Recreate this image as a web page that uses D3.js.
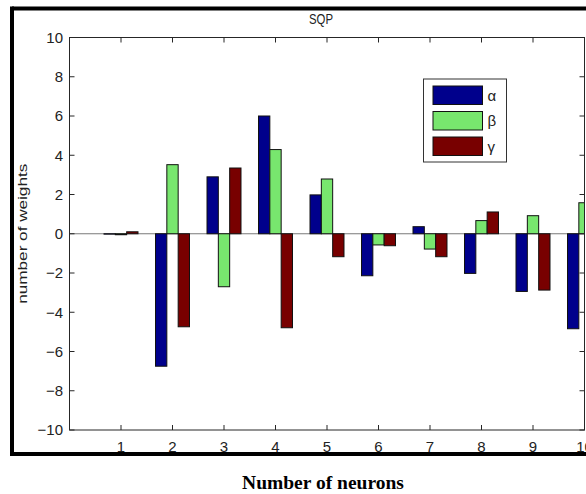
<!DOCTYPE html>
<html>
<head>
<meta charset="utf-8">
<script src="https://cdn.jsdelivr.net/npm/d3@7"></script>
<style>
  body { margin: 0; background: #fff; }
  svg { display: block; }
</style>
</head>
<body>
<div id="chart"></div>
<script>
// neurons 1..10, one value per series
var neurons = [1, 2, 3, 4, 5, 6, 7, 8, 9, 10];
var alpha = [-0.02, -6.75, 2.9, 6.0, 1.98, -2.14, 0.36, -2.02, -2.94, -4.84];
var beta  = [-0.05, 3.52, -2.7, 4.29, 2.79, -0.57, -0.78, 0.67, 0.92, 1.58];
var gamma = [0.1, -4.74, 3.35, -4.79, -1.17, -0.61, -1.17, 1.11, -2.87, -1.2];
var seriesNames = ["α", "β", "γ"];
var seriesColors = ["#00008c", "#78e66e", "#780000"];
var yTicks = [-10, -8, -6, -4, -2, 0, 2, 4, 6, 8, 10];

var width = 586, height = 494;
var plot = {left: 69.5, right: 584.5, top: 37.5, bottom: 430};

var svg = d3.select("#chart").append("svg")
  .attr("width", width)
  .attr("height", height);

svg.append("rect").attr("width", width).attr("height", height).attr("fill", "#fff");

var x = d3.scaleLinear().domain([0, 10]).range([plot.left, plot.right]);
var y = d3.scaleLinear().domain([-10, 10]).range([plot.bottom, plot.top]);

var series = [alpha, beta, gamma];
var barW = 0.22;
var offsets = [-barW, 0, barW];

svg.append("clipPath").attr("id", "clip")
  .append("rect")
  .attr("x", plot.left).attr("y", plot.top)
  .attr("width", plot.right - plot.left).attr("height", plot.bottom - plot.top);

var bars = svg.append("g").attr("clip-path", "url(#clip)");

// baseline
bars.append("line")
  .attr("x1", plot.left).attr("x2", plot.right)
  .attr("y1", y(0)).attr("y2", y(0))
  .attr("stroke", "#7a7a7a").attr("stroke-width", 1);

series.forEach(function(vals, si){
  bars.selectAll(".bar" + si)
    .data(vals)
    .enter().append("rect")
      .attr("class", "bar" + si)
      .attr("x", (d, i) => x(neurons[i] + offsets[si] - barW / 2))
      .attr("width", x(barW) - x(0))
      .attr("y", d => y(Math.max(0, d)))
      .attr("height", d => Math.abs(y(d) - y(0)))
      .attr("fill", seriesColors[si])
      .attr("stroke", "#111")
      .attr("stroke-width", 1);
});

// axes box with inward ticks
var axisColor = "#262626";
var tickLen = 5;
var gAx = svg.append("g");

gAx.append("rect")
  .attr("x", plot.left).attr("y", plot.top)
  .attr("width", plot.right - plot.left).attr("height", plot.bottom - plot.top)
  .attr("fill", "none").attr("stroke", axisColor).attr("stroke-width", 1);

neurons.forEach(function(n){
  gAx.append("line").attr("x1", x(n)).attr("x2", x(n))
    .attr("y1", plot.bottom).attr("y2", plot.bottom - tickLen)
    .attr("stroke", axisColor);
  gAx.append("line").attr("x1", x(n)).attr("x2", x(n))
    .attr("y1", plot.top).attr("y2", plot.top + tickLen)
    .attr("stroke", axisColor);
  gAx.append("text")
    .attr("x", x(n)).attr("y", 452)
    .attr("text-anchor", "middle")
    .attr("font-family", "Liberation Sans, Arial, sans-serif")
    .attr("font-size", 15)
    .attr("fill", "#222")
    .text(n);
});

var fmt = d3.format("");
yTicks.forEach(function(t){
  gAx.append("line").attr("x1", plot.left).attr("x2", plot.left + tickLen)
    .attr("y1", y(t)).attr("y2", y(t)).attr("stroke", axisColor);
  gAx.append("line").attr("x1", plot.right).attr("x2", plot.right - tickLen)
    .attr("y1", y(t)).attr("y2", y(t)).attr("stroke", axisColor);
  gAx.append("text")
    .attr("x", 63).attr("y", y(t))
    .attr("dy", "0.36em")
    .attr("text-anchor", "end")
    .attr("font-family", "Liberation Sans, Arial, sans-serif")
    .attr("font-size", 15)
    .attr("fill", "#222")
    .text(fmt(t));
});

// title and y label
svg.append("text")
  .attr("x", 321).attr("y", 24)
  .attr("text-anchor", "middle")
  .attr("font-family", "Liberation Sans, Arial, sans-serif")
  .attr("font-size", 15)
  .attr("textLength", 24)
  .attr("lengthAdjust", "spacingAndGlyphs")
  .attr("fill", "#222")
  .text("SQP");

svg.append("text")
  .attr("transform", "translate(27," + y(0) + ") rotate(-90)")
  .attr("text-anchor", "middle")
  .attr("font-family", "Liberation Sans, Arial, sans-serif")
  .attr("font-size", 12.5)
  .attr("textLength", 140)
  .attr("lengthAdjust", "spacingAndGlyphs")
  .attr("fill", "#222")
  .text("number of weights");

// legend
var leg = svg.append("g").attr("transform", "translate(423.5,79)");
leg.append("rect")
  .attr("width", 83).attr("height", 83)
  .attr("fill", "#fff").attr("stroke", "#333").attr("stroke-width", 1);
seriesNames.forEach(function(name, i){
  var yy = 7 + i * 25.5;
  leg.append("rect")
    .attr("x", 9.5).attr("y", yy)
    .attr("width", 49.5).attr("height", 18.5)
    .attr("fill", seriesColors[i]).attr("stroke", "#111");
  leg.append("text")
    .attr("x", 64).attr("y", yy + 9.5)
    .attr("dy", "0.36em")
    .attr("font-family", "Liberation Sans, Arial, sans-serif")
    .attr("font-size", 15)
    .attr("fill", "#222")
    .text(name);
});

// outer frame
var frame = svg.append("g").attr("stroke", "#000").attr("stroke-width", 4);
frame.append("line").attr("x1", 12).attr("x2", width).attr("y1", 8.5).attr("y2", 8.5);
frame.append("line").attr("x1", 12).attr("x2", 12).attr("y1", 6.5).attr("y2", 456);
frame.append("line").attr("x1", 10).attr("x2", width).attr("y1", 454).attr("y2", 454);

// x label
svg.append("text")
  .attr("x", 323).attr("y", 489)
  .attr("text-anchor", "middle")
  .attr("font-family", "Liberation Serif, Times New Roman, serif")
  .attr("font-weight", "bold")
  .attr("font-size", 19.5)
  .attr("fill", "#000")
  .text("Number of neurons");
</script>
</body>
</html>
